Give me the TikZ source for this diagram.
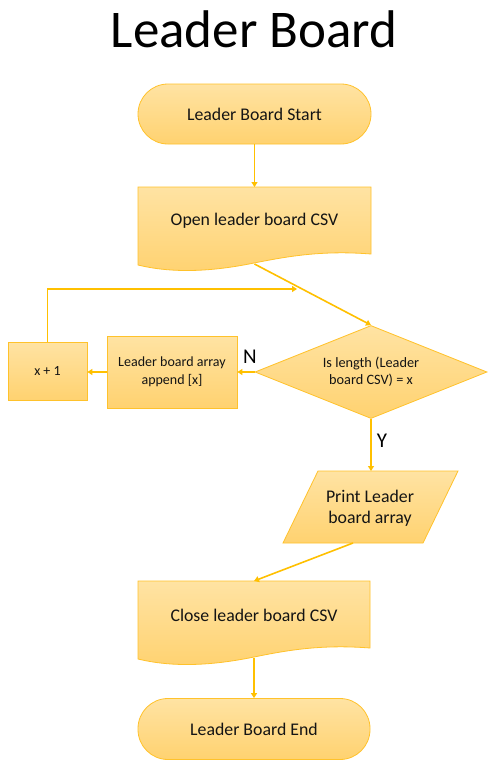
\documentclass[tikz,border=0pt]{standalone}
\usepackage{fontspec}
\setmainfont{Carlito}
\usetikzlibrary{arrows.meta,shapes.geometric}
\definecolor{fillA}{HTML}{FFE3A3}
\definecolor{fillB}{HTML}{FFD270}
\definecolor{edgeC}{HTML}{FFC22B}
\definecolor{lineC}{HTML}{FFC000}
\definecolor{txt}{HTML}{141414}
\begin{document}
\begin{tikzpicture}[x=1pt,y=-1pt,
  shapefill/.style={top color=fillA,bottom color=fillB,draw=edgeC,line width=0.8pt},
  conn/.style={draw=lineC,line width=1.6pt,-{Triangle[width=6pt,length=5pt]}},
  bigtxt/.style={font=\fontsize{17.8}{20.5}\selectfont,text=txt,align=center},
  midtxt/.style={font=\fontsize{14.3}{16.8}\selectfont,text=txt,align=center},
  smalltxt/.style={font=\fontsize{14}{18}\selectfont,text=txt,align=center},
  lbl/.style={font=\fontsize{21}{24}\selectfont,text=black}]
\useasboundingbox[fill=white] (0,0) rectangle (502,769);

% title
\node[font=\fontsize{53}{60}\selectfont,anchor=base] (title) at (254,47) {Leader Board};

% start
\node[shapefill,bigtxt,rounded corners=30pt,minimum width=233pt,minimum height=60pt] (start) at (254.5,114) {Leader Board Start};

% open document
\path[shapefill] (138,187) -- (371,187) -- (371,254)
  .. controls (320,250) and (285,257) .. (254,263)
  .. controls (215,271) and (175,274) .. (138,265) -- cycle;
\node[bigtxt] (open) at (254.5,221) {Open leader board CSV};
\coordinate (opentop) at (254.5,187);
\coordinate (openbot) at (254.5,264);

% decision
\node[diamond,shapefill,midtxt,minimum width=232pt,minimum height=93pt,inner sep=0pt,shape aspect=2.5] (dia) at (371,372) {Is length (Leader\\board CSV) = x};

% append box
\node[shapefill,smalltxt,minimum width=130pt,minimum height=72pt] (app) at (172,372) {Leader board array\\append [x]};

% x + 1 box
\node[shapefill,smalltxt,minimum width=79pt,minimum height=58pt] (inc) at (47.5,371) {x + 1};

% print parallelogram
\path[shapefill] (318,471) -- (458,471) -- (423,543) -- (283,543) -- cycle;
\node[bigtxt] (prt) at (370,508) {Print Leader\\board array};
\coordinate (prttop) at (371,471);
\coordinate (prtbot) at (353,543);

% close document
\path[shapefill] (138,581) -- (370,581) -- (370,648)
  .. controls (319,644) and (284,651) .. (254,657)
  .. controls (215,665) and (175,668) .. (138,659) -- cycle;
\node[bigtxt] (close) at (254,615) {Close leader board CSV};
\coordinate (closetop) at (254,581);
\coordinate (closebot) at (254,658);

% end
\node[shapefill,bigtxt,rounded corners=30pt,minimum width=232pt,minimum height=61pt] (fin) at (254,729) {Leader Board End};

% connectors
\draw[conn] (start.south) -- (opentop);
\draw[conn] (openbot) -- (dia.north);
\coordinate (loopend) at (297,289);
\draw[conn] (inc.north) -- (inc.north |- loopend) -- (loopend);
\draw[conn] (dia.west) -- (app.east);
\draw[conn] (app.west) -- (app.west -| inc.east);
\draw[conn] (dia.south) -- (prttop);
\draw[conn] (prtbot) -- (closetop);
\draw[conn] (closebot) -- (fin.north);

% labels
\node[lbl] (nlab) at (250,357) {N};
\node[lbl] (ylab) at (382,441) {Y};
\end{tikzpicture}
\end{document}
